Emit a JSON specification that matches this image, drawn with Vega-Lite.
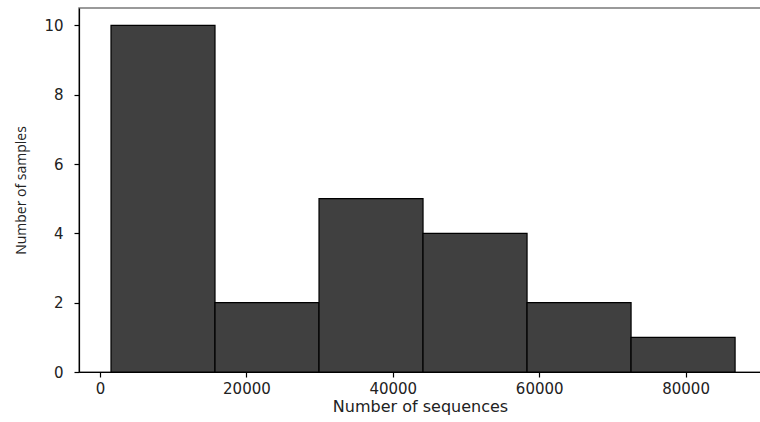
{
  "$schema": "https://vega.github.io/schema/vega-lite/v6.json",
  "autosize": "none",
  "width": 683,
  "height": 364,
  "padding": {"left": 79, "top": 8, "right": 0, "bottom": 50},
  "background": "white",
  "config": {
    "view": {"stroke": "#7a7a7a", "strokeWidth": 1.5},
    "axis": {
      "grid": false,
      "domainColor": "black",
      "tickColor": "black",
      "domainWidth": 1.2,
      "tickWidth": 1.2,
      "tickSize": 5,
      "labelFont": "DejaVu Sans",
      "labelFontSize": 15,
      "labelColor": "#222",
      "titleFont": "DejaVu Sans",
      "titleFontSize": 16,
      "titleFontWeight": "normal",
      "titleColor": "#222"
    }
  },
  "data": {
    "values": [
      {"bin_start": 1503, "bin_end": 15710, "count": 10},
      {"bin_start": 15710, "bin_end": 29920, "count": 2},
      {"bin_start": 29920, "bin_end": 44130, "count": 5},
      {"bin_start": 44130, "bin_end": 58340, "count": 4},
      {"bin_start": 58340, "bin_end": 72550, "count": 2},
      {"bin_start": 72550, "bin_end": 86760, "count": 1}
    ]
  },
  "mark": {"type": "bar", "fill": "#404040", "stroke": "black", "strokeWidth": 1.2},
  "encoding": {
    "x": {
      "field": "bin_start",
      "type": "quantitative",
      "scale": {"domain": [-2869, 90437], "nice": false, "zero": false},
      "axis": {"values": [0, 20000, 40000, 60000, 80000], "format": "d", "title": "Number of sequences", "titleX": 341, "titleAnchor": "middle", "labelPadding": 4, "titlePadding": 2}
    },
    "x2": {"field": "bin_end"},
    "y": {
      "field": "count",
      "type": "quantitative",
      "scale": {"domain": [0, 10.5], "nice": false},
      "axis": {"values": [0, 2, 4, 6, 8, 10], "title": "Number of samples", "titleFont": "Open Sans", "titleFontSize": 14, "labelPadding": 11, "titlePadding": 15}
    },
    "y2": {"datum": 0}
  }
}
